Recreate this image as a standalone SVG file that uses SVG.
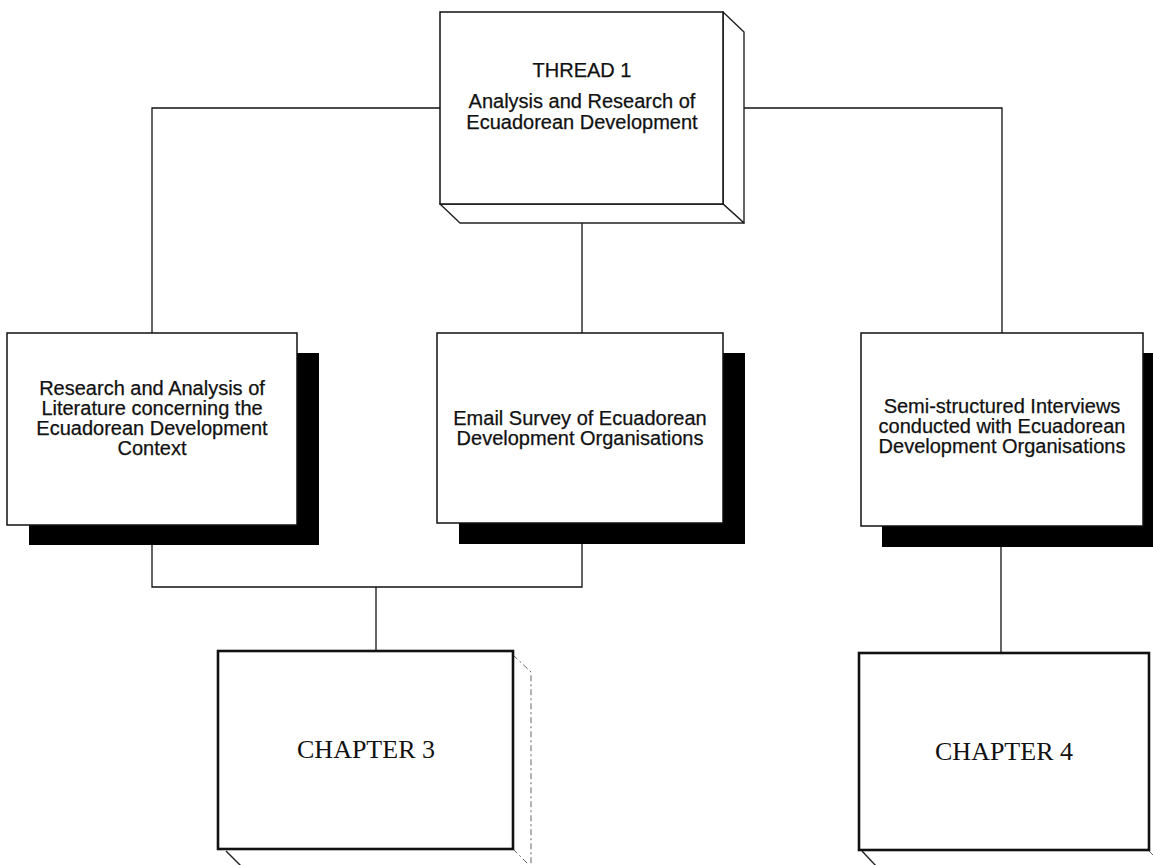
<svg xmlns="http://www.w3.org/2000/svg" width="1153" height="865" viewBox="0 0 1153 865">
  <style>
    .face { fill: #ffffff; stroke: #111111; stroke-width: 1.5; }
    .thick { fill: #ffffff; stroke: #111111; stroke-width: 2.6; }
    .side { fill: #ffffff; stroke: #222222; stroke-width: 1.4; stroke-linejoin: round; }
    .faint { fill: none; stroke: #666666; stroke-width: 1; stroke-dasharray: 6 3 2 3; }
    .shadow { fill: #000000; }
    .wire { fill: none; stroke: #111111; stroke-width: 1.3; }
    .lbl { font-family: "Liberation Sans", Arial, sans-serif; font-size: 20px; fill: #111111; stroke: #111111; stroke-width: 0.25; text-anchor: middle; }
    .chap { font-family: "Liberation Serif", "Times New Roman", serif; font-size: 26px; fill: #111111; text-anchor: middle; }
  </style>
  <rect width="1153" height="865" fill="#ffffff"/>

  <!-- connectors -->
  <g id="connectors" class="wire">
    <polyline points="152,333 152,108 440,108"/>
    <polyline points="744,108 1002,108 1002,333"/>
    <line x1="582" y1="223" x2="582" y2="333"/>
    <polyline points="152,545 152,587 582,587 582,544"/>
    <line x1="376" y1="587" x2="376" y2="651"/>
    <line x1="1001" y1="547" x2="1001" y2="653"/>
  </g>

  <!-- top node: raised block -->
  <g id="thread1">
    <polygon class="side" points="723,12 744,32 744,223 723,204"/>
    <polygon class="side" points="440,204 723,204 744,223 460,223"/>
    <rect class="face" x="440" y="12" width="283" height="192"/>
    <text class="lbl" x="582" y="77">THREAD 1</text>
    <text class="lbl" x="582" y="108">Analysis and Research of</text>
    <text class="lbl" x="582" y="129">Ecuadorean Development</text>
  </g>

  <!-- literature research -->
  <g id="literature">
    <rect class="shadow" x="29" y="353" width="290" height="192"/>
    <rect class="face" x="7" y="333" width="290" height="192"/>
    <text class="lbl" x="152" y="395">Research and Analysis of</text>
    <text class="lbl" x="152" y="415">Literature concerning the</text>
    <text class="lbl" x="152" y="435">Ecuadorean Development</text>
    <text class="lbl" x="152" y="455">Context</text>
  </g>

  <!-- email survey -->
  <g id="survey">
    <rect class="shadow" x="459" y="353" width="286" height="191"/>
    <rect class="face" x="437" y="333" width="286" height="190"/>
    <text class="lbl" x="580" y="425">Email Survey of Ecuadorean</text>
    <text class="lbl" x="580" y="445">Development Organisations</text>
  </g>

  <!-- interviews -->
  <g id="interviews">
    <rect class="shadow" x="882" y="353" width="290" height="194"/>
    <rect class="face" x="861" y="333" width="282" height="193"/>
    <text class="lbl" x="1002" y="413">Semi-structured Interviews</text>
    <text class="lbl" x="1002" y="433">conducted with Ecuadorean</text>
    <text class="lbl" x="1002" y="453">Development Organisations</text>
  </g>

  <!-- chapter 3 -->
  <g id="chapter3">
    <polyline class="faint" points="513,655 531,672 531,867"/>
    <line class="faint" x1="513" y1="849" x2="531" y2="867"/>
    <line class="side" x1="226" y1="851" x2="242" y2="867"/>
    <rect class="thick" x="218" y="651" width="295" height="198"/>
    <text class="chap" x="366" y="758">CHAPTER 3</text>
  </g>

  <!-- chapter 4 -->
  <g id="chapter4">
    <line class="side" x1="862" y1="851" x2="877" y2="867"/>
    <line class="faint" x1="1149" y1="851" x2="1160" y2="862"/>
    <rect class="thick" x="859" y="653" width="290" height="197"/>
    <text class="chap" x="1004" y="760">CHAPTER 4</text>
  </g>
</svg>
